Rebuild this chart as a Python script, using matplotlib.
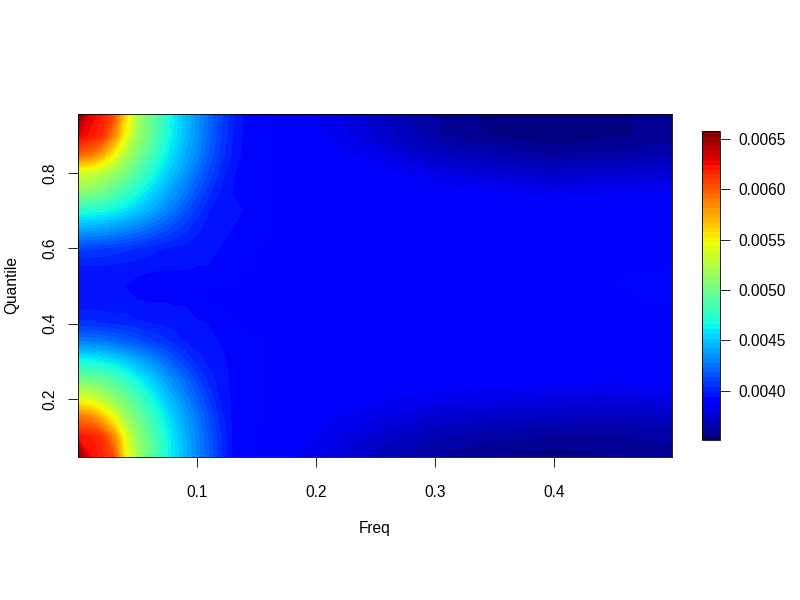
import numpy as np
import matplotlib
matplotlib.use('Agg')
import matplotlib.pyplot as plt
from matplotlib.cm import ScalarMappable
from matplotlib.colors import Normalize

plt.rcParams['font.family'] = ['Liberation Sans', 'DejaVu Sans']
plt.rcParams['font.size'] = 11.2

# 频率和分位数（列、行）
freq = [0.0, 0.01, 0.02, 0.03, 0.04, 0.05, 0.06, 0.07, 0.08, 0.09, 0.10, 0.11,
        0.12, 0.13, 0.14, 0.16, 0.18, 0.20, 0.25, 0.30, 0.35, 0.40, 0.45, 0.499]
quantile = [0.046, 0.10, 0.15, 0.20, 0.25, 0.30, 0.35, 0.40, 0.45, 0.50,
            0.55, 0.60, 0.65, 0.70, 0.75, 0.80, 0.85, 0.90, 0.957]

# 值，单位 1e-3，每行对应一个分位数（从下到上）
q05 = [6.58, 6.25, 6.17, 6.05, 5.50, 5.17, 4.97, 4.76, 4.58, 4.44, 4.31, 4.18, 4.05, 3.93, 3.90, 3.88, 3.85, 3.80, 3.68, 3.60, 3.55, 3.53, 3.55, 3.58]
q10 = [6.22, 6.20, 6.12, 5.85, 5.42, 5.12, 4.94, 4.74, 4.57, 4.43, 4.30, 4.17, 4.04, 3.93, 3.90, 3.88, 3.87, 3.84, 3.74, 3.66, 3.62, 3.60, 3.60, 3.62]
q15 = [5.92, 5.88, 5.70, 5.47, 5.18, 5.00, 4.84, 4.67, 4.52, 4.39, 4.26, 4.13, 4.01, 3.93, 3.90, 3.89, 3.88, 3.87, 3.80, 3.74, 3.71, 3.70, 3.68, 3.70]
q20 = [5.42, 5.38, 5.27, 5.12, 5.00, 4.85, 4.70, 4.55, 4.43, 4.31, 4.19, 4.08, 3.98, 3.93, 3.90, 3.89, 3.89, 3.89, 3.85, 3.82, 3.80, 3.78, 3.78, 3.79]
q25 = [5.02, 5.00, 4.95, 4.87, 4.77, 4.65, 4.54, 4.43, 4.32, 4.22, 4.11, 4.02, 3.96, 3.93, 3.90, 3.89, 3.89, 3.89, 3.89, 3.88, 3.87, 3.87, 3.86, 3.87]
q30 = [4.68, 4.66, 4.63, 4.58, 4.51, 4.43, 4.35, 4.26, 4.17, 4.09, 4.02, 3.97, 3.95, 3.93, 3.90, 3.89, 3.89, 3.89, 3.89, 3.89, 3.89, 3.89, 3.89, 3.89]
q35 = [4.30, 4.29, 4.27, 4.24, 4.20, 4.16, 4.11, 4.07, 4.03, 3.99, 3.97, 3.95, 3.94, 3.92, 3.90, 3.89, 3.89, 3.89, 3.89, 3.89, 3.89, 3.89, 3.89, 3.89]
q40 = [4.05, 4.05, 4.04, 4.03, 4.02, 4.00, 3.99, 3.98, 3.97, 3.96, 3.95, 3.94, 3.92, 3.89, 3.89, 3.89, 3.89, 3.89, 3.89, 3.89, 3.89, 3.89, 3.89, 3.89]
q45 = [3.97, 3.97, 3.96, 3.96, 3.96, 3.95, 3.95, 3.95, 3.94, 3.94, 3.91, 3.89, 3.89, 3.89, 3.89, 3.89, 3.89, 3.89, 3.89, 3.89, 3.89, 3.89, 3.89, 3.89]
q50 = [3.96, 3.96, 3.95, 3.95, 3.94, 3.92, 3.89, 3.89, 3.89, 3.89, 3.89, 3.89, 3.89, 3.89, 3.89, 3.89, 3.89, 3.89, 3.89, 3.89, 3.89, 3.89, 3.89, 3.93]
q55 = [3.98, 3.98, 3.98, 3.97, 3.97, 3.96, 3.96, 3.95, 3.95, 3.95, 3.94, 3.94, 3.94, 3.92, 3.89, 3.89, 3.89, 3.89, 3.89, 3.89, 3.89, 3.89, 3.89, 3.89]
q60 = [4.10, 4.09, 4.08, 4.07, 4.05, 4.03, 4.01, 3.99, 3.98, 3.97, 3.96, 3.95, 3.94, 3.93, 3.90, 3.89, 3.89, 3.89, 3.89, 3.89, 3.89, 3.89, 3.89, 3.89]
q65 = [4.40, 4.39, 4.37, 4.34, 4.30, 4.26, 4.21, 4.16, 4.10, 4.05, 4.00, 3.97, 3.95, 3.94, 3.93, 3.89, 3.89, 3.89, 3.89, 3.89, 3.89, 3.89, 3.89, 3.89]
q70 = [4.72, 4.70, 4.67, 4.63, 4.57, 4.50, 4.42, 4.34, 4.25, 4.15, 4.06, 3.99, 3.96, 3.95, 3.94, 3.89, 3.89, 3.89, 3.89, 3.89, 3.89, 3.89, 3.89, 3.89]
q75 = [5.10, 5.07, 5.00, 4.90, 4.79, 4.68, 4.57, 4.47, 4.36, 4.26, 4.15, 4.05, 3.98, 3.94, 3.91, 3.89, 3.89, 3.89, 3.89, 3.87, 3.85, 3.82, 3.84, 3.85]
q80 = [5.35, 5.33, 5.25, 5.14, 5.02, 4.87, 4.73, 4.58, 4.47, 4.35, 4.23, 4.12, 4.02, 3.95, 3.91, 3.89, 3.89, 3.89, 3.87, 3.80, 3.76, 3.72, 3.74, 3.76]
q85 = [5.98, 5.92, 5.75, 5.50, 5.22, 5.04, 4.87, 4.70, 4.55, 4.42, 4.30, 4.17, 4.06, 3.98, 3.92, 3.89, 3.88, 3.88, 3.82, 3.70, 3.65, 3.60, 3.62, 3.65]
q90 = [6.30, 6.22, 6.15, 5.85, 5.47, 5.15, 4.97, 4.78, 4.60, 4.47, 4.34, 4.21, 4.09, 3.99, 3.93, 3.89, 3.88, 3.86, 3.75, 3.62, 3.55, 3.52, 3.55, 3.58]
q95 = [6.58, 6.30, 6.20, 6.05, 5.60, 5.20, 5.00, 4.80, 4.62, 4.48, 4.35, 4.22, 4.10, 4.00, 3.93, 3.89, 3.88, 3.84, 3.72, 3.60, 3.54, 3.52, 3.54, 3.58]

rows = [q05, q10, q15, q20, q25, q30, q35, q40, q45, q50,
        q55, q60, q65, q70, q75, q80, q85, q90, q95]
spec = np.array(rows) * 1e-3

x_ticks = [0.1, 0.2, 0.3, 0.4]
y_ticks = [0.2, 0.4, 0.6, 0.8]
cbar_ticks = [0.0040, 0.0045, 0.0050, 0.0055, 0.0060, 0.0065]
vmin, vmax = 0.00351, 0.00658

W, H = 800.0, 600.0
fig = plt.figure(figsize=(8, 6), dpi=100)
ax = fig.add_axes([78 / W, 1 - 457 / H, (672 - 78) / W, (457 - 114) / H])

cmap = plt.get_cmap('jet', 64)
levels = np.linspace(vmin, vmax, 65)
ax.contourf(freq, quantile, spec, levels=levels, cmap=cmap, extend='both')

ax.set_xlim(0.0, 0.499)
ax.set_ylim(0.046, 0.957)
ax.set_xticks(x_ticks)
ax.set_yticks(y_ticks)
ax.set_xticklabels(['%.1f' % v for v in x_ticks])
ax.set_yticklabels(['%.1f' % v for v in y_ticks], rotation=90, va='center')
ax.tick_params(axis='x', length=7.2, width=0.6, pad=13)
ax.tick_params(axis='y', length=7.2, width=0.6, pad=8)
ax.set_xlabel('Freq', labelpad=15)
ax.set_ylabel('Quantile', labelpad=16)
for s in ax.spines.values():
    s.set_linewidth(0.6)

# 颜色条
cax = fig.add_axes([702 / W, 1 - 440 / H, (720 - 702) / W, (440 - 131) / H])
sm = ScalarMappable(norm=Normalize(vmin, vmax), cmap=cmap)
cb = fig.colorbar(sm, cax=cax)
cb.set_ticks(cbar_ticks)
cb.set_ticklabels(['%.4f' % v for v in cbar_ticks])
cb.ax.tick_params(length=7.2, width=0.6, pad=6)
cb.outline.set_linewidth(0.6)

plt.savefig('out.png', dpi=100)
